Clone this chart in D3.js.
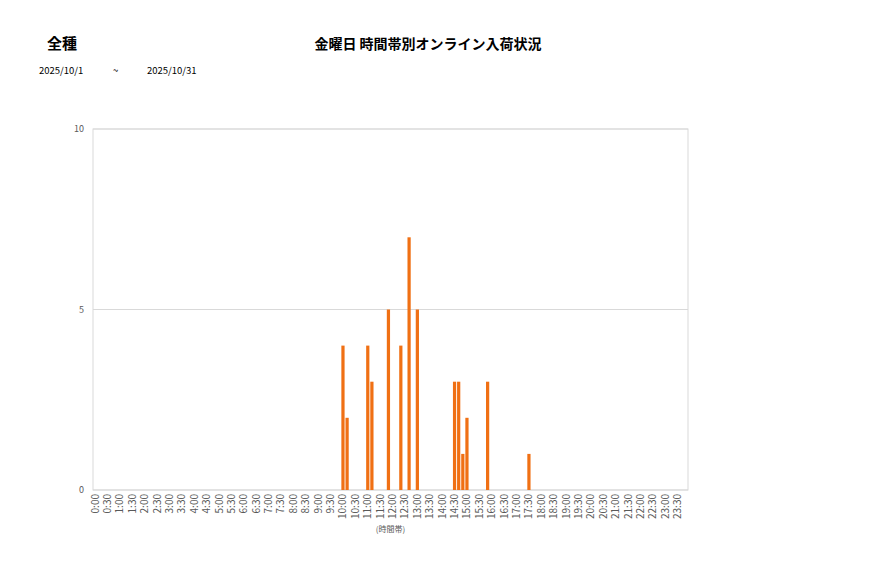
<!DOCTYPE html>
<html>
<head>
<meta charset="utf-8">
<script src="https://cdn.jsdelivr.net/npm/d3@7"></script>
<style>
  body { margin: 0; background: #fff; }
  text { font-family: "Noto Sans CJK JP", "Noto Sans", sans-serif; }
</style>
</head>
<body>
<div class="chart"></div>
<script>
let width = 877
let height = 578

// 10-minute slots, labels every 30 min
const slots = d3.range(0, 144).map(i => `${Math.floor(i / 6)}:${String((i % 6) * 10).padStart(2, "0")}`)
const tickLabels = slots.filter((d, i) => i % 3 === 0)

const filledSlots = ["10:00", "10:10", "11:00", "11:10", "11:50", "12:20", "12:40", "13:00", "14:30", "14:40", "14:50", "15:00", "15:50", "17:30"]
const filledCounts = [4, 2, 4, 3, 5, 4, 7, 5, 3, 3, 1, 2, 3, 1]
const yTicks = [0, 5, 10]

const data = filledSlots.map((s, i) => ({ slot: s, count: filledCounts[i] }))

const svg = d3.select(".chart")
  .append("svg")
  .attr("width", width)
  .attr("height", height)

const plotL = 93, plotR = 688, plotT = 129, plotB = 490

const x = d3.scaleBand()
  .domain(slots)
  .range([plotL, plotR])
  .paddingInner(0.22)
  .paddingOuter(0.1)

const y = d3.scaleLinear()
  .domain([0, 10])
  .range([plotB, plotT])

// gridlines
svg.selectAll("grid")
  .data(yTicks)
  .enter()
  .append("line")
  .attr("x1", plotL)
  .attr("x2", plotR)
  .attr("y1", d => y(d))
  .attr("y2", d => y(d))
  .style("stroke", "#d9d9d9")
  .style("stroke-width", 1)

// plot frame
svg.append("rect")
  .attr("x", plotL)
  .attr("y", plotT)
  .attr("width", plotR - plotL)
  .attr("height", plotB - plotT)
  .style("fill", "none")
  .style("stroke", "#d9d9d9")

// y labels
svg.selectAll("ylab")
  .data(yTicks)
  .enter()
  .append("text")
  .attr("x", 84)
  .attr("y", d => y(d) + 3)
  .attr("text-anchor", "end")
  .style("font-size", "9px")
  .style("fill", "#595959")
  .text(d => d)

// bars
svg.selectAll("bars")
  .data(data)
  .enter()
  .append("rect")
  .attr("x", d => x(d.slot))
  .attr("y", d => y(d.count))
  .attr("width", x.bandwidth())
  .attr("height", d => y(0) - y(d.count))
  .style("fill", "#F07014")

// x labels
svg.selectAll("xlab")
  .data(tickLabels)
  .enter()
  .append("text")
  .attr("transform", d => `translate(${x(d) + x.bandwidth() / 2 + 3.5},${plotB + 4}) rotate(-90)`)
  .attr("text-anchor", "end")
  .style("font-size", "10px")
  .style("fill", "#595959")
  .text(d => d)

svg.append("text")
  .attr("x", (plotL + plotR) / 2)
  .attr("y", 532)
  .attr("text-anchor", "middle")
  .style("font-size", "8px")
  .style("fill", "#595959")
  .text("(時間帯)")

// titles
svg.append("text")
  .attr("x", 428)
  .attr("y", 49)
  .attr("text-anchor", "middle")
  .style("font-size", "14px")
  .style("font-weight", "bold")
  .text("金曜日 時間帯別オンライン入荷状況")

svg.append("text")
  .attr("x", 47)
  .attr("y", 49)
  .style("font-size", "15px")
  .style("font-weight", "bold")
  .text("全種")

svg.append("text").attr("x", 39).attr("y", 74).style("font-size", "9.5px").text("2025/10/1")
svg.append("text").attr("x", 113).attr("y", 74).style("font-size", "9.5px").text("~")
svg.append("text").attr("x", 147).attr("y", 74).style("font-size", "9.5px").text("2025/10/31")
</script>
</body>
</html>
